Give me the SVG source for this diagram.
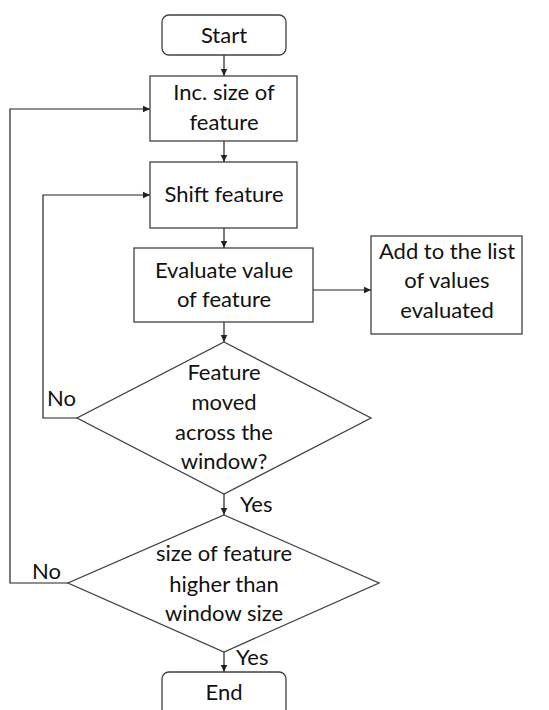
<svg xmlns="http://www.w3.org/2000/svg" width="549" height="710" viewBox="0 0 549 710">
<defs>
<marker id="ah" markerWidth="8" markerHeight="8" refX="7" refY="4" orient="auto" markerUnits="userSpaceOnUse">
<path d="M0,0.8 L7,4 L0,7.2 Z" fill="#222"/>
</marker>
<style>
.box{fill:#fff;stroke:#404040;stroke-width:1.3}
.ln{fill:none;stroke:#222;stroke-width:1.2}
.t{font-family:Lato,"Liberation Sans",sans-serif;font-size:22px;fill:#111;text-anchor:middle}
.l{font-family:Lato,"Liberation Sans",sans-serif;font-size:22px;fill:#111}
</style>
</defs>
<rect width="549" height="710" fill="#fff"/>
<g id="connectors">
<line class="ln" x1="224" y1="55" x2="224" y2="76" marker-end="url(#ah)"/>
<line class="ln" x1="224" y1="141" x2="224" y2="162" marker-end="url(#ah)"/>
<line class="ln" x1="224" y1="228" x2="224" y2="248" marker-end="url(#ah)"/>
<line class="ln" x1="313" y1="290" x2="371" y2="290" marker-end="url(#ah)"/>
<line class="ln" x1="224" y1="322" x2="224" y2="342" marker-end="url(#ah)"/>
<polyline class="ln" points="77,418 43,418 43,195 150,195" marker-end="url(#ah)"/>
<line class="ln" x1="224" y1="494" x2="224" y2="515" marker-end="url(#ah)"/>
<polyline class="ln" points="68,583 10,583 10,109 150,109" marker-end="url(#ah)"/>
<line class="ln" x1="224" y1="652" x2="224" y2="672" marker-end="url(#ah)"/>
<text class="l" x="47" y="406">No</text>
<text class="l" x="32" y="579">No</text>
<text class="l" x="240" y="512">Yes</text>
<text class="l" x="236" y="665">Yes</text>
</g>
<g id="start">
<rect class="box" x="162" y="15" width="124" height="40" rx="7"/>
<text class="t" x="224" y="43">Start</text>
</g>
<g id="inc">
<rect class="box" x="150" y="76" width="147" height="65"/>
<text class="t" x="224" y="100">Inc. size of</text>
<text class="t" x="224" y="130">feature</text>
</g>
<g id="shift">
<rect class="box" x="150" y="162" width="147" height="66"/>
<text class="t" x="224" y="202">Shift feature</text>
</g>
<g id="evaluate">
<rect class="box" x="134" y="248" width="179" height="74"/>
<text class="t" x="224" y="278">Evaluate value</text>
<text class="t" x="224" y="307">of feature</text>
</g>
<g id="addlist">
<rect class="box" x="371" y="236" width="151" height="98"/>
<text class="t" x="447" y="259">Add to the list</text>
<text class="t" x="447" y="288">of values</text>
<text class="t" x="447" y="318">evaluated</text>
</g>
<g id="moved">
<polygon class="box" points="224,342 371,418 224,494 77,418"/>
<text class="t" x="224" y="380">Feature</text>
<text class="t" x="224" y="410">moved</text>
<text class="t" x="224" y="440">across the</text>
<text class="t" x="224" y="469">window?</text>
</g>
<g id="sizecheck">
<polygon class="box" points="224,515 379,583 224,652 68,583"/>
<text class="t" x="224" y="561">size of feature</text>
<text class="t" x="224" y="592">higher than</text>
<text class="t" x="224" y="621">window size</text>
</g>
<g id="end">
<rect class="box" x="162" y="672" width="124" height="50" rx="7"/>
<text class="t" x="224" y="700">End</text>
</g>
</svg>
